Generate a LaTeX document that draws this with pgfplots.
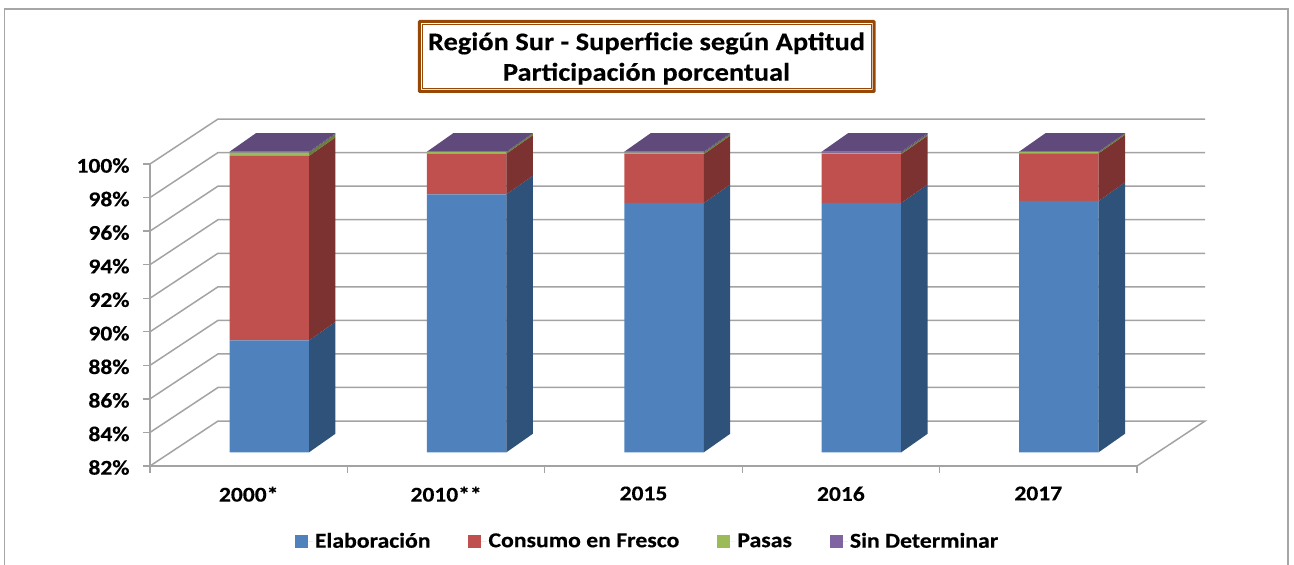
\documentclass[border=0pt]{standalone}
\usepackage{fontspec}
\setmainfont{Carlito}[FakeStretch=1.12,BoldFeatures={FakeBold=0.35}]
\usepackage{pgfplots}
\pgfplotsset{compat=1.18}
\definecolor{gridgray}{HTML}{A3A3A3}
\definecolor{framegray}{HTML}{A6A6A6}
\definecolor{boxbrown}{HTML}{974806}
\definecolor{cB}{HTML}{4F81BD}\definecolor{cBd}{HTML}{2F527B}
\definecolor{cR}{HTML}{C0504D}\definecolor{cRd}{HTML}{7B3230}
\definecolor{cG}{HTML}{9BBB59}\definecolor{cGd}{HTML}{68803A}
\definecolor{cP}{HTML}{8064A2}\definecolor{cPd}{HTML}{604A7B}
\tikzset{gl/.style={draw=gridgray,solid,line width=1.5pt,mark=none}}
\begin{document}
\begin{tikzpicture}[x=1pt,y=1pt]
\path[use as bounding box] (0,0) rectangle (1294,565);
% outer frame
\draw[framegray,line width=1.6pt] (4.5,0) -- (4.5,556) -- (1287.7,556) -- (1287.7,0);
% main axis: ticks, labels, wall grid
\begin{axis}[
  at={(150pt,99pt)}, anchor=south west, scale only axis,
  width=987pt, height=302pt,
  xmin=-0.5, xmax=4.5, ymin=82, ymax=100, clip=false,
  axis x line*=bottom, axis y line*=left,
  axis line style={gridgray,line width=1.5pt,-},
  tick align=outside,
  xtick={0,1,2,3,4}, xticklabels={2000*,2010**,2015,2016,2017},
  minor xtick={-0.5,0.5,1.5,2.5,3.5,4.5},
  ytick={82,84,86,88,90,92,94,96,98,100},
  yticklabels={82\%,84\%,86\%,88\%,90\%,92\%,94\%,96\%,98\%,100\%},
  major tick length=7pt, minor tick length=7pt,
  major x tick style={draw=none},
  minor x tick style={draw=gridgray,line width=1.3pt},
  ytick style={draw=gridgray,line width=1.3pt},
  ticklabel style={font=\fontsize{21}{25}\selectfont\bfseries},
  yticklabel style={xshift=-10pt,yshift=-1.5pt},
  xticklabel style={yshift=-10pt},
]
\addplot[gl] coordinates {(-0.5,82)(-0.1555,84.68)(4.8445,84.68)(4.5,82)};
\addplot[gl] coordinates {(-0.5,84)(-0.1555,86.68)(4.8445,86.68)};
\addplot[gl] coordinates {(-0.5,86)(-0.1555,88.68)(4.8445,88.68)};
\addplot[gl] coordinates {(-0.5,88)(-0.1555,90.68)(4.8445,90.68)};
\addplot[gl] coordinates {(-0.5,90)(-0.1555,92.68)(4.8445,92.68)};
\addplot[gl] coordinates {(-0.5,92)(-0.1555,94.68)(4.8445,94.68)};
\addplot[gl] coordinates {(-0.5,94)(-0.1555,96.68)(4.8445,96.68)};
\addplot[gl] coordinates {(-0.5,96)(-0.1555,98.68)(4.8445,98.68)};
\addplot[gl] coordinates {(-0.5,98)(-0.1555,100.68)(4.8445,100.68)};
\addplot[gl] coordinates {(-0.5,100)(-0.1555,102.68)(4.8445,102.68)};
\end{axis}
% front faces of the columns
\begin{axis}[
  at={(170.6pt,112.7pt)}, anchor=south west, scale only axis,
  width=1026.48pt, height=334pt,
  xmin=-0.5, xmax=4.7, ymin=82, ymax=102, hide axis,
  ybar stacked, bar width=79.5pt,
  legend columns=4,
  legend style={at={(0.4647,-0.2656)},anchor=center,draw=none,fill=none,
    font=\fontsize{21.2}{25}\selectfont\bfseries,
    /tikz/every even column/.append style={column sep=36pt}},
  legend image code/.code={\fill[#1] (0pt,-6.5pt) rectangle (13pt,6.5pt);\path (0pt,0pt) -- (18pt,0pt);},
]
\addplot[fill=cB,draw=none] coordinates {(0,88.7)(1,97.45)(2,96.93)(3,96.93)(4,97.05)};
\addplot[fill=cR,draw=none] coordinates {(0,11.05)(1,2.43)(2,2.92)(3,2.92)(4,2.85)};
\addplot[fill=cG,draw=none] coordinates {(0,0.2)(1,0.09)(2,0.1)(3,0.08)(4,0.08)};
\addplot[fill=cP,draw=none] coordinates {(0,0.05)(1,0.03)(2,0.05)(3,0.07)(4,0.02)};
\legend{Elaboración,Consumo en Fresco,Pasas,Sin Determinar}
\end{axis}
% side and top faces of the columns
\begin{axis}[
  at={(170.6pt,112.7pt)}, anchor=south west, scale only axis,
  width=1026.48pt, height=334pt,
  xmin=-0.5, xmax=4.7, ymin=82, ymax=102, hide axis,
  every axis plot/.append style={draw=none,no markers},
]
% 2000*
\addplot[fill=cBd] coordinates {(0.2014,82)(0.3351,83.11)(0.3351,89.81)(0.2014,88.7)};
\addplot[fill=cRd] coordinates {(0.2014,88.7)(0.3351,89.81)(0.3351,100.86)(0.2014,99.75)};
\addplot[fill=cGd] coordinates {(0.2014,99.75)(0.3351,100.86)(0.3351,101.06)(0.2014,99.95)};
\addplot[fill=cPd] coordinates {(0.2014,99.95)(0.3351,101.06)(0.3351,101.11)(0.2014,100)};
\addplot[fill=cPd] coordinates {(-0.2014,100)(0.2014,100)(0.3351,101.11)(-0.0677,101.11)};
% 2010**
\addplot[fill=cBd] coordinates {(1.2014,82)(1.3351,83.11)(1.3351,98.56)(1.2014,97.45)};
\addplot[fill=cRd] coordinates {(1.2014,97.45)(1.3351,98.56)(1.3351,100.99)(1.2014,99.88)};
\addplot[fill=cGd] coordinates {(1.2014,99.88)(1.3351,100.99)(1.3351,101.08)(1.2014,99.97)};
\addplot[fill=cPd] coordinates {(1.2014,99.97)(1.3351,101.08)(1.3351,101.11)(1.2014,100)};
\addplot[fill=cPd] coordinates {(0.7986,100)(1.2014,100)(1.3351,101.11)(0.9323,101.11)};
% 2015
\addplot[fill=cBd] coordinates {(2.2014,82)(2.3351,83.11)(2.3351,98.04)(2.2014,96.93)};
\addplot[fill=cRd] coordinates {(2.2014,96.93)(2.3351,98.04)(2.3351,100.96)(2.2014,99.85)};
\addplot[fill=cGd] coordinates {(2.2014,99.85)(2.3351,100.96)(2.3351,101.06)(2.2014,99.95)};
\addplot[fill=cPd] coordinates {(2.2014,99.95)(2.3351,101.06)(2.3351,101.11)(2.2014,100)};
\addplot[fill=cPd] coordinates {(1.7986,100)(2.2014,100)(2.3351,101.11)(1.9323,101.11)};
% 2016
\addplot[fill=cBd] coordinates {(3.2014,82)(3.3351,83.11)(3.3351,98.04)(3.2014,96.93)};
\addplot[fill=cRd] coordinates {(3.2014,96.93)(3.3351,98.04)(3.3351,100.96)(3.2014,99.85)};
\addplot[fill=cGd] coordinates {(3.2014,99.85)(3.3351,100.96)(3.3351,101.04)(3.2014,99.93)};
\addplot[fill=cPd] coordinates {(3.2014,99.93)(3.3351,101.04)(3.3351,101.11)(3.2014,100)};
\addplot[fill=cPd] coordinates {(2.7986,100)(3.2014,100)(3.3351,101.11)(2.9323,101.11)};
% 2017
\addplot[fill=cBd] coordinates {(4.2014,82)(4.3351,83.11)(4.3351,98.16)(4.2014,97.05)};
\addplot[fill=cRd] coordinates {(4.2014,97.05)(4.3351,98.16)(4.3351,101.01)(4.2014,99.9)};
\addplot[fill=cGd] coordinates {(4.2014,99.9)(4.3351,101.01)(4.3351,101.09)(4.2014,99.98)};
\addplot[fill=cPd] coordinates {(4.2014,99.98)(4.3351,101.09)(4.3351,101.11)(4.2014,100)};
\addplot[fill=cPd] coordinates {(3.7986,100)(4.2014,100)(4.3351,101.11)(3.9323,101.11)};
\end{axis}
% title box
\draw[boxbrown,line width=3pt,fill=white,rounded corners=0.8pt] (419.3,473.5) rectangle (874.2,543.5);
\draw[boxbrown,line width=1pt] (422.5,476.7) rectangle (871,540.5);
\node[align=center,font=\fontsize{25.4}{30.5}\selectfont\bfseries,text=black] at (646.5,506.5) {Región Sur - Superficie según Aptitud\\Participación porcentual};
\end{tikzpicture}
\end{document}
